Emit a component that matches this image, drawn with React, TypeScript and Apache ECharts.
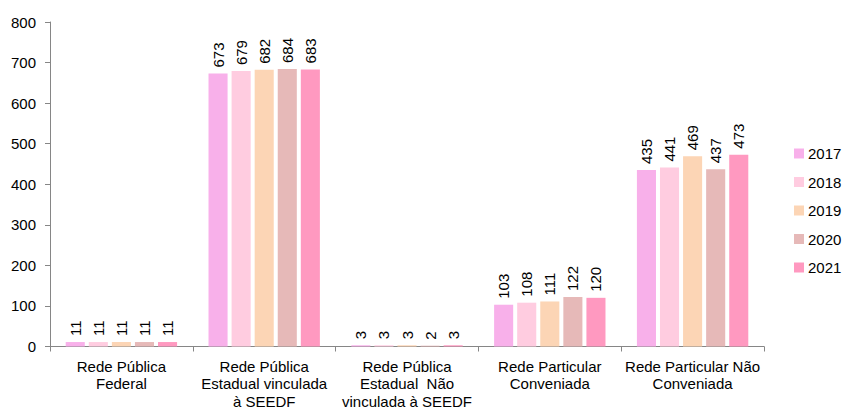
import React, { useEffect, useRef } from "react";
import * as echarts from "echarts";

const categories = [
  "Rede Pública\nFederal",
  "Rede Pública\nEstadual vinculada\nà SEEDF",
  "Rede Pública\nEstadual  Não\nvinculada à SEEDF",
  "Rede Particular\nConveniada",
  "Rede Particular Não\nConveniada",
];
const years = ["2017", "2018", "2019", "2020", "2021"];
const v2017 = [11, 673, 3, 103, 435];
const v2018 = [11, 679, 3, 108, 441];
const v2019 = [11, 682, 3, 111, 469];
const v2020 = [11, 684, 2, 122, 437];
const v2021 = [11, 683, 3, 120, 473];
const seriesValues = [v2017, v2018, v2019, v2020, v2021];
const colors = ["#F8B0EA", "#FFCCE0", "#FCD5B5", "#E6B9B8", "#FF99C0"];
const yTicks = { min: 0, max: 800, interval: 100 };

const FONT = "'Liberation Sans', Arial, sans-serif";

export default function App() {
  const ref = useRef<HTMLDivElement>(null);
  useEffect(() => {
    if (!ref.current) return;
    const chart = echarts.init(ref.current, null, { renderer: "svg" });
    chart.setOption({
      animation: false,
      textStyle: { fontFamily: FONT },
      grid: { left: 50, right: 79, top: 22, bottom: 63 },
      legend: {
        orient: "vertical",
        left: 794,
        top: 146,
        padding: 0,
        itemWidth: 10,
        itemHeight: 10,
        itemGap: 13.5,
        icon: "rect",
        textStyle: { fontSize: 15, color: "#000", fontFamily: FONT, padding: [0, 0, 0, -1] },
        data: years,
      },
      xAxis: {
        type: "category",
        data: categories,
        axisLine: { lineStyle: { color: "#868686" } },
        axisTick: { show: true, alignWithLabel: false, length: 5, lineStyle: { color: "#868686" } },
        axisLabel: {
          interval: 0,
          fontSize: 15,
          color: "#000",
          lineHeight: 17.5,
          margin: 11,
          fontFamily: FONT,
        },
      },
      yAxis: {
        type: "value",
        min: yTicks.min,
        max: yTicks.max,
        interval: yTicks.interval,
        splitLine: { show: false },
        axisLine: { show: true, lineStyle: { color: "#868686" } },
        axisTick: { show: true, length: 5, lineStyle: { color: "#868686" } },
        axisLabel: { fontSize: 15, color: "#000", margin: 14, fontFamily: FONT },
      },
      series: years.map((y, i) => ({
        name: y,
        type: "bar",
        data: seriesValues[i],
        barGap: "21%",
        barCategoryGap: "22%",
        itemStyle: { color: colors[i] },
        label: {
          show: true,
          position: "top",
          rotate: 90,
          align: "left",
          verticalAlign: "middle",
          distance: 6,
          fontSize: 15,
          color: "#000",
          fontFamily: FONT,
        },
      })),
    });
    return () => chart.dispose();
  }, []);
  return (
    <div
      ref={ref}
      style={{ position: "fixed", left: 0, top: 0, width: 843, height: 410, background: "#fff" }}
    />
  );
}
